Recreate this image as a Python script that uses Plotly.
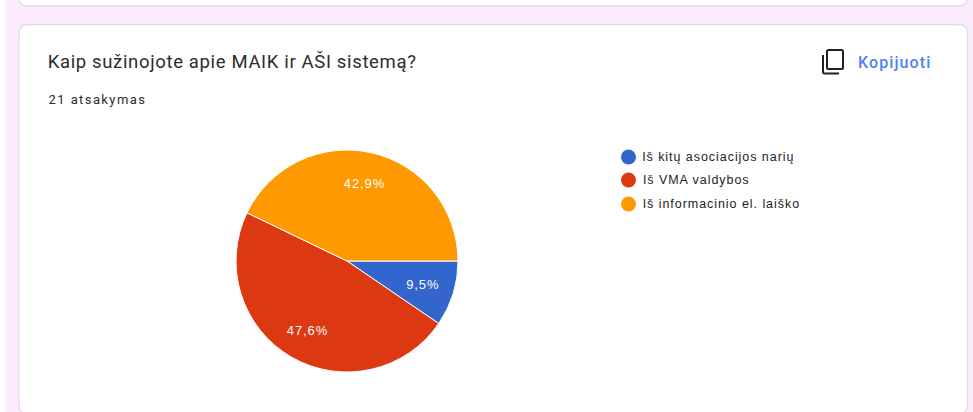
import math
import plotly.graph_objects as go

categories = ["Iš kitų asociacijos narių", "Iš VMA valdybos", "Iš informacinio el. laiško"]
responses = [2, 10, 9]
colors = ["#3366cc", "#dc3912", "#ff9900"]
title_text = "Kaip sužinojote apie MAIK ir AŠI sistemą?"
subtitle_text = "21 atsakymas"
copy_text = "Kopijuoti"

W, H = 973, 412
PAGE = "#fcebfc"
BORDER = "#dfdde3"

def px(x):
    return x / W

def py(y):
    return 1 - y / H

def rounded(x0, y0, x1, y1, r):
    return (f"M {x0+r},{y0} L {x1-r},{y0} Q {x1},{y0} {x1},{y0+r} "
            f"L {x1},{y1-r} Q {x1},{y1} {x1-r},{y1} L {x0+r},{y1} "
            f"Q {x0},{y1} {x0},{y1-r} L {x0},{y0+r} Q {x0},{y0} {x0+r},{y0} Z")

shapes = [
    dict(type="rect", xref="x", yref="y", x0=0, x1=5, y0=0, y1=H, fillcolor="#ffffff", line_width=0, layer="below"),
    dict(type="path", xref="x", yref="y", path=rounded(19, -30, 967.5, 6, 9), fillcolor="#ffffff",
         line=dict(color=BORDER, width=1.3), layer="below"),
    dict(type="path", xref="x", yref="y", path=rounded(19, 24.5, 967.5, 414, 9), fillcolor="#ffffff",
         line=dict(color=BORDER, width=1.3), layer="below"),
    dict(type="path", xref="x", yref="y", path=rounded(827, 50, 843, 69, 1.5), fillcolor="rgba(0,0,0,0)",
         line=dict(color="#202124", width=2), layer="above"),
    dict(type="path", xref="x", yref="y", path="M 823,55 L 823,72 Q 823,73.5 825,73.5 L 839,73.5",
         fillcolor="rgba(0,0,0,0)", line=dict(color="#202124", width=2), layer="above"),
]

annotations = []
spacings = []

def add_text(x, y, text, anchor, spacing, **font):
    annotations.append(dict(x=x, y=y, xref="x", yref="y", text=text, showarrow=False, xanchor=anchor,
                            yanchor="middle", font=font))
    spacings.append(spacing)

legend_y = [157, 180, 204]
legend_x = [652, 648, 653]
for name, col, y, x in zip(categories, colors, legend_y, legend_x):
    shapes.append(dict(type="circle", xref="x", yref="y", x0=621, x1=636, y0=y - 7.5, y1=y + 7.5,
                       fillcolor=col, line_width=0))
    add_text(x, y, name, "left", 0.95, family="Liberation Sans", size=12.5, color="#222222")

add_text(58.5, 62, title_text, "left", 0.65, family="Roboto", size=18.5, color="#2b2c30")
add_text(54.5, 99, subtitle_text, "left", 1.4, family="Roboto", size=13, color="#2b2c30")
add_text(861, 62, copy_text, "left", 1.1, family="Roboto", size=16, weight=500, color="#4d82ee")

cx, cy, r = 347, 261, 111
total = sum(responses)
angle = 90.0
for v in responses:
    sweep = 360.0 * v / total
    mid = math.radians(angle + sweep / 2)
    angle += sweep
    label = f"{100 * v / total:.1f}%".replace(".", ",")
    add_text(cx + 0.72 * r * math.sin(mid), cy - 0.72 * r * math.cos(mid), label, "center", 0.9,
             family="Liberation Sans", size=13, color="#ffffff")

fig = go.Figure(go.Pie(
    labels=categories,
    values=responses,
    marker=dict(colors=colors, line=dict(color="#ffffff", width=1)),
    sort=False,
    direction="clockwise",
    rotation=90,
    textinfo="none",
    domain=dict(x=[px(cx - r), px(cx + r)], y=[py(cy + r), py(cy - r)]),
    showlegend=False,
    hoverinfo="label+percent",
))

fig.update_layout(
    width=W, height=H,
    margin=dict(l=0, r=0, t=0, b=0),
    paper_bgcolor=PAGE,
    plot_bgcolor="rgba(0,0,0,0)",
    xaxis=dict(range=[0, W], visible=False, fixedrange=True, domain=[0, 1]),
    yaxis=dict(range=[H, 0], visible=False, fixedrange=True, domain=[0, 1]),
    shapes=shapes,
    annotations=annotations,
)

css = "body{margin:0}" + "".join(
    f'.annotation[data-index="{i}"] text{{letter-spacing:{s}px}}' for i, s in enumerate(spacings)
)
post = f"var s=document.createElement('style');s.textContent={css!r};document.head.appendChild(s);"
fig.write_html("out.html", config=dict(displayModeBar=False), post_script=post)
